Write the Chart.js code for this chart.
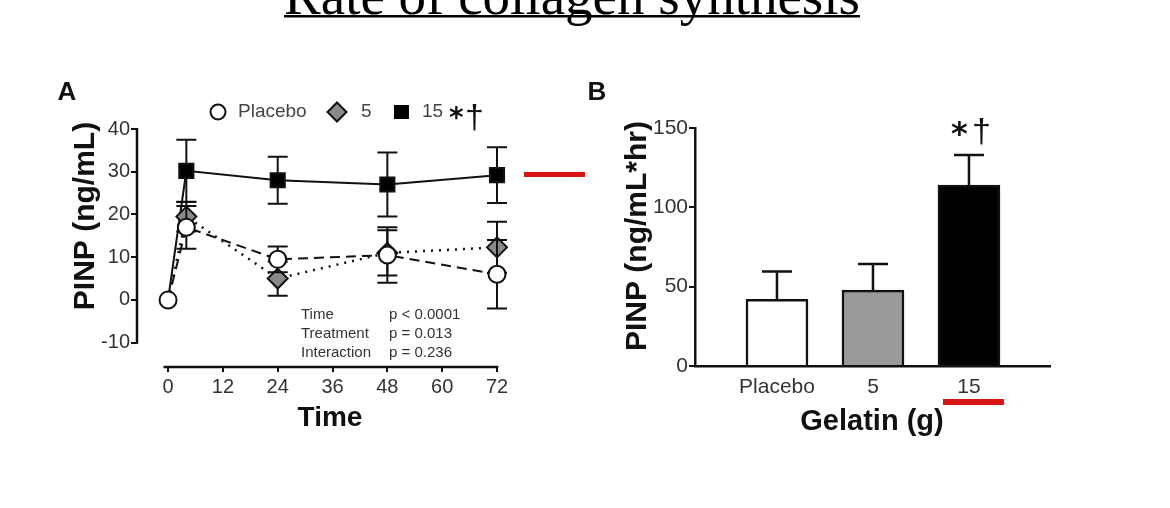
<!DOCTYPE html>
<html>
<head>
<meta charset="utf-8">
<title>Rate of collagen synthesis</title>
<script src="https://cdn.jsdelivr.net/npm/chart.js"></script>
<style>
  html, body { margin: 0; padding: 0; background: #fff; }
  #wrap { position: relative; width: 1170px; height: 508px; overflow: hidden; }
  canvas { position: absolute; left: 0; top: 0; }
  #chartB { pointer-events: none; }
</style>
</head>
<body>
<div id="wrap">
  <canvas id="chartA" width="1170" height="508"></canvas>
  <canvas id="chartB" width="1170" height="508"></canvas>
</div>
<script>
//Panel A: PINP over time (ng/mL)
const hours = [0, 4, 24, 48, 72];
const placeboMean = [0, 17, 9.5, 10.5, 6];
const placeboSd = [0, 5, 3, 6.5, 8];
const gel5Mean = [0, 19.5, 5, 11, 12.3];
const gel5Sd = [0, 3.5, 4, 5.3, 6];
const gel15Mean = [0, 30.2, 28, 27, 29.2];
const gel15Sd = [0, 7.3, 5.5, 7.5, 6.5];
const timeTicks = [0, 12, 24, 36, 48, 60, 72];
const pinpTicks = [-10, 0, 10, 20, 30, 40];
const statNames = ["Time", "Treatment", "Interaction"];
const statValues = ["p < 0.0001", "p = 0.013", "p = 0.236"];

//Panel B: PINP area under curve (ng/mL*hr)
const doses = ["Placebo", "5", "15"];
const aucMean = [42, 47.8, 114];
const aucSd = [17.5, 16.5, 19];
const aucTicks = [0, 50, 100, 150];

const sans = "'Liberation Sans', Arial, Helvetica, sans-serif";
const ink = "#111";
const red = "#d81414";

const toPoints = (xs, ys) => xs.map((x, i) => ({ x, y: ys[i] }));

//Shared: rotated axis title
const drawRotated = (ctx, text, x, y, font) => {
  ctx.save();
  ctx.translate(x, y);
  ctx.rotate(-Math.PI / 2);
  ctx.font = font;
  ctx.textAlign = "center";
  ctx.textBaseline = "alphabetic";
  ctx.fillText(text, 0, 0);
  ctx.restore();
};

//Error bars for the time course, drawn just under each series
const timeErrorBars = {
  id: "timeErrorBars",
  beforeDatasetDraw(chart, args) {
    const { ctx, scales: { y } } = chart;
    const ds = chart.data.datasets[args.index];
    ctx.save();
    ctx.strokeStyle = ink;
    ctx.lineWidth = 2;
    args.meta.data.forEach((pt, i) => {
      const sd = ds.sd[i];
      if (!sd) return;
      const top = y.getPixelForValue(ds.data[i].y + sd);
      const bot = y.getPixelForValue(ds.data[i].y - sd);
      ctx.beginPath();
      ctx.moveTo(pt.x, top);
      ctx.lineTo(pt.x, bot);
      ctx.moveTo(pt.x - 10, top);
      ctx.lineTo(pt.x + 10, top);
      ctx.moveTo(pt.x - 10, bot);
      ctx.lineTo(pt.x + 10, bot);
      ctx.stroke();
    });
    ctx.restore();
  },
};

//Axis lines of panel A (y stops at -10, x is offset below)
const axesA = {
  id: "axesA",
  beforeDatasetsDraw(chart) {
    const { ctx, scales: { x, y }, chartArea } = chart;
    ctx.save();
    ctx.strokeStyle = ink;
    ctx.lineWidth = 2.5;
    ctx.beginPath();
    ctx.moveTo(chartArea.left, y.getPixelForValue(40) - 1);
    ctx.lineTo(chartArea.left, y.getPixelForValue(-10) + 1);
    ctx.moveTo(x.getPixelForValue(-1), chartArea.bottom);
    ctx.lineTo(x.getPixelForValue(72.3), chartArea.bottom);
    ctx.stroke();
    ctx.restore();
  },
};

//Title, legend, stats and labels of panel A
const decorA = {
  id: "decorA",
  afterDraw(chart) {
    const { ctx } = chart;
    ctx.save();

    //slide title, cut by the top edge
    ctx.fillStyle = "#000";
    ctx.font = "55px 'Liberation Serif', 'Times New Roman', serif";
    ctx.textAlign = "center";
    ctx.textBaseline = "alphabetic";
    const title = "Rate of collagen synthesis";
    const tw = ctx.measureText(title).width;
    ctx.fillText(title, 572, 14);
    ctx.fillRect(572 - tw / 2, 15, tw, 2.5);

    //panel letter
    ctx.fillStyle = ink;
    ctx.font = "bold 26px " + sans;
    ctx.fillText("A", 67, 100);

    //legend
    const ly = 112;
    ctx.strokeStyle = ink;
    ctx.lineWidth = 2;
    ctx.fillStyle = "#fff";
    ctx.beginPath();
    ctx.arc(218, ly, 7.5, 0, Math.PI * 2);
    ctx.fill();
    ctx.stroke();
    ctx.fillStyle = "#8a8a8a";
    ctx.beginPath();
    ctx.moveTo(337, ly - 9.5);
    ctx.lineTo(346.5, ly);
    ctx.lineTo(337, ly + 9.5);
    ctx.lineTo(327.5, ly);
    ctx.closePath();
    ctx.fill();
    ctx.stroke();
    ctx.fillStyle = "#000";
    ctx.fillRect(394, ly - 7, 15, 14);

    ctx.fillStyle = "#444";
    ctx.font = "19px " + sans;
    ctx.textAlign = "left";
    ctx.textBaseline = "middle";
    ctx.fillText("Placebo", 238, ly);
    ctx.fillText("5", 361, ly);
    ctx.fillText("15", 422, ly);
    ctx.fillStyle = ink;
    ctx.textBaseline = "alphabetic";
    ctx.font = "bold 28px 'DejaVu Sans', sans-serif";
    ctx.fillText("*", 449, 127);
    ctx.font = "34px " + sans;
    ctx.fillText("\u2020", 465, 128);

    //statistics box
    ctx.fillStyle = "#333";
    ctx.font = "15px 'Liberation Sans Narrow', " + sans;
    ctx.textBaseline = "middle";
    statNames.forEach((name, i) => {
      ctx.fillText(name, 301, 315 + i * 19);
      ctx.fillText(statValues[i], 389, 315 + i * 19);
    });

    //axis titles
    ctx.fillStyle = ink;
    drawRotated(ctx, "PINP (ng/mL)", 94, 216, "bold 30px " + sans);
    ctx.font = "bold 28px " + sans;
    ctx.textAlign = "center";
    ctx.textBaseline = "alphabetic";
    ctx.fillText("Time", 330, 426);

    //red marker
    ctx.fillStyle = red;
    ctx.fillRect(524, 172, 61, 5);
    ctx.restore();
  },
};

//Upward error bars on the bars of panel B
const barErrorBars = {
  id: "barErrorBars",
  afterDatasetsDraw(chart) {
    const { ctx, scales: { y } } = chart;
    const meta = chart.getDatasetMeta(0);
    ctx.save();
    ctx.strokeStyle = ink;
    ctx.lineWidth = 2.5;
    meta.data.forEach((bar, i) => {
      const top = y.getPixelForValue(aucMean[i] + aucSd[i]);
      ctx.beginPath();
      ctx.moveTo(bar.x, bar.y);
      ctx.lineTo(bar.x, top);
      ctx.moveTo(bar.x - 15, top);
      ctx.lineTo(bar.x + 15, top);
      ctx.stroke();
    });
    ctx.restore();
  },
};

//Labels of panel B
const decorB = {
  id: "decorB",
  afterDraw(chart) {
    const { ctx } = chart;
    ctx.save();
    ctx.fillStyle = ink;
    ctx.textAlign = "center";
    ctx.textBaseline = "alphabetic";
    ctx.font = "bold 26px " + sans;
    ctx.fillText("B", 597, 100);

    drawRotated(ctx, "PINP (ng/mL*hr)", 646, 236, "bold 30px " + sans);
    ctx.font = "bold 29px " + sans;
    ctx.fillText("Gelatin (g)", 872, 430);

    //significance marks over the 15 g bar
    ctx.textAlign = "left";
    ctx.font = "bold 32px 'DejaVu Sans', sans-serif";
    ctx.fillText("*", 951, 144);
    ctx.font = "34px " + sans;
    ctx.fillText("\u2020", 972, 142);

    ctx.fillStyle = red;
    ctx.fillRect(943, 399, 61, 6);
    ctx.restore();
  },
};

const lineSet = (label, means, sds, style) =>
  Object.assign(
    {
      label,
      data: toPoints(hours, means),
      sd: sds,
      borderColor: ink,
      borderWidth: 2,
      pointBorderColor: ink,
      pointBorderWidth: 2,
      tension: 0,
      clip: false,
    },
    style
  );

new Chart(document.getElementById("chartA"), {
  type: "line",
  data: {
    datasets: [
      lineSet("Placebo", placeboMean, placeboSd, {
        borderDash: [10, 6],
        pointStyle: "circle",
        pointRadius: 8.5,
        pointBackgroundColor: "#fff",
      }),
      lineSet("5", gel5Mean, gel5Sd, {
        borderDash: [2, 6],
        borderWidth: 2.5,
        pointStyle: "rectRot",
        pointRadius: [6, 10, 10, 10, 10],
        pointBackgroundColor: "#8a8a8a",
      }),
      lineSet("15", gel15Mean, gel15Sd, {
        pointStyle: "rect",
        pointRadius: [6, 10, 10, 10, 10],
        pointBackgroundColor: "#000",
      }),
    ],
  },
  options: {
    responsive: false,
    animation: false,
    layout: { padding: { left: 77, top: 129, right: 673, bottom: 101 } },
    plugins: { legend: { display: false }, tooltip: { enabled: false } },
    scales: {
      x: {
        type: "linear",
        min: -6.8,
        max: 72,
        afterBuildTicks: s => { s.ticks = timeTicks.map(value => ({ value })); },
        afterFit: s => { s.height = 40; s.paddingLeft = 0; s.paddingRight = 0; },
        border: { display: false },
        grid: { drawOnChartArea: false, tickLength: 5, color: ink, lineWidth: 2 },
        ticks: { color: "#333", font: { family: sans, size: 20 }, padding: 3, maxRotation: 0, autoSkip: false },
      },
      y: {
        min: -15.7,
        max: 40,
        afterBuildTicks: s => { s.ticks = pinpTicks.map(value => ({ value })); },
        afterFit: s => { s.width = 60; s.paddingTop = 0; s.paddingBottom = 0; },
        border: { display: false },
        grid: { drawOnChartArea: false, tickLength: 6, color: ink, lineWidth: 2 },
        ticks: { color: "#333", font: { family: sans, size: 20 }, padding: 1 },
      },
    },
  },
  plugins: [timeErrorBars, axesA, decorA],
});

new Chart(document.getElementById("chartB"), {
  type: "bar",
  data: {
    datasets: [
      {
        label: "PINP AUC",
        data: toPoints([1, 2, 3], aucMean),
        backgroundColor: ["#fff", "#9a9a9a", "#000"],
        borderColor: ink,
        borderWidth: 2.5,
        barThickness: 62,
      },
    ],
  },
  options: {
    responsive: false,
    animation: false,
    layout: { padding: { left: 645, top: 128, right: 120, bottom: 102 } },
    plugins: { legend: { display: false }, tooltip: { enabled: false } },
    scales: {
      x: {
        type: "linear",
        offset: false,
        min: 0.146,
        max: 3.844,
        afterBuildTicks: s => { s.ticks = [1, 2, 3].map(value => ({ value })); },
        afterFit: s => { s.height = 40; s.paddingLeft = 0; s.paddingRight = 0; },
        border: { display: true, color: ink, width: 2.5 },
        grid: { display: true, offset: false, drawOnChartArea: false, drawTicks: false },
        ticks: {
          color: "#333",
          font: { family: sans, size: 21 },
          padding: 9,
          maxRotation: 0,
          autoSkip: false,
          callback: (v, i) => doses[i],
        },
      },
      y: {
        min: 0,
        max: 150,
        afterBuildTicks: s => { s.ticks = aucTicks.map(value => ({ value })); },
        afterFit: s => { s.width = 50; s.paddingTop = 0; s.paddingBottom = 0; },
        border: { display: true, color: ink, width: 2.5 },
        grid: { drawOnChartArea: false, tickLength: 6, color: ink, lineWidth: 2 },
        ticks: { color: "#333", font: { family: sans, size: 21 }, padding: 1 },
      },
    },
  },
  plugins: [barErrorBars, decorB],
});
</script>
</body>
</html>
